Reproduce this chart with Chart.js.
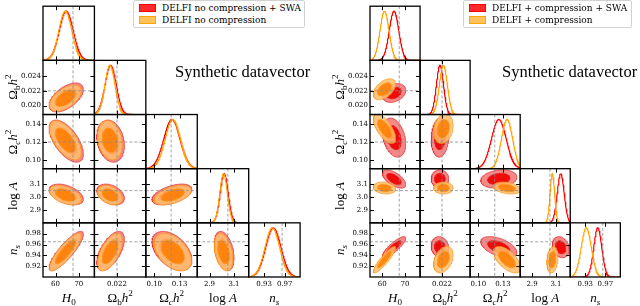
<!DOCTYPE html>
<html>
<head>
<meta charset="utf-8">
<script src="https://cdn.jsdelivr.net/npm/chart.js"></script>
<style>
  body { margin: 0; background: #fff; width: 640px; height: 306px; overflow: hidden; position: relative; font-family: "Liberation Serif", serif; color: #000; }
  canvas { position: absolute; top: 0; }
  #cornerL { left: 0; }
  #cornerR { left: 320px; }
  .ttl { position: absolute; font-size: 13px; line-height: 1; white-space: nowrap; }
  .ttl sub, .ttl sup { font-size: 70%; line-height: 0; }
  .legend { position: absolute; top: 0; height: 26px; border: 1px solid #d2d2d2; border-radius: 2px; background: #fff; font-family: "DejaVu Serif", serif; font-size: 9px; }
  .legend .row { position: absolute; left: 5px; height: 10px; line-height: 10px; display: flex; align-items: center; white-space: nowrap; }
  .legend .patch { display: inline-block; width: 15px; height: 6px; margin-right: 6px; box-sizing: content-box; }
  .legend .red { background: #ff2a2a; border: 1px solid #ff0000; }
  .legend .orange { background: #ffc35a; border: 1px solid #ffa500; }
  .big { position: absolute; font-size: 16.5px; line-height: 1; white-space: nowrap; }
</style>
</head>
<body>
<canvas id="cornerL" width="320" height="306"></canvas>
<canvas id="cornerR" width="320" height="306"></canvas>

<div class="legend" style="left:133px;width:170px">
  <div class="row" style="top:2px"><span class="patch red"></span>DELFI no compression + SWA</div>
  <div class="row" style="top:14px"><span class="patch orange"></span>DELFI no compression</div>
</div>
<div class="legend" style="left:463px;width:167px">
  <div class="row" style="top:2px"><span class="patch red"></span>DELFI + compression + SWA</div>
  <div class="row" style="top:14px"><span class="patch orange"></span>DELFI + compression</div>
</div>
<div class="big" style="left:175px;top:64px">Synthetic datavector</div>
<div class="big" style="left:502px;top:64px">Synthetic datavector</div>

<script>
// parameters (columns / rows of the corner plot)
const params = ['H0', 'Omega_b h^2', 'Omega_c h^2', 'log A', 'n_s'];
const axisTitles = ['<i>H</i><sub>0</sub>', 'Ω<sub>b</sub><i>h</i><sup>2</sup>', 'Ω<sub><i>c</i></sub><i>h</i><sup>2</sup>', 'log <i>A</i>', '<i>n</i><sub><i>s</i></sub>'];
const rangeMin = [54.6, 0.0188, 0.090, 2.80, 0.900];
const rangeMax = [76.7, 0.0261, 0.151, 3.22, 1.000];
const xTicks = [[60, 70], [0.022], [0.10, 0.13], [2.9, 3.1], [0.93, 0.97]];
const yTicks = [[], [0.020, 0.022, 0.024], [0.10, 0.12, 0.14], [2.9, 3.0, 3.1], [0.92, 0.94, 0.96, 0.98]];
const tickDecimals = [0, 3, 2, 1, 2];
const truth = [67.5, 0.022, 0.12, 3.05, 0.965];

// correlations, pair order: (H0,Ob) (H0,Oc) (H0,logA) (H0,ns) (Ob,Oc) (Ob,logA) (Ob,ns) (Oc,logA) (Oc,ns) (logA,ns)
const noCompSwaMean = [64.6, 0.0211, 0.121, 3.020, 0.948];
const noCompSwaSigma = [3.0, 0.00080, 0.0097, 0.033, 0.0148];
const noCompSwaCorr = [0.55, -0.6, -0.45, 0.85, -0.2, -0.35, 0.6, 0.5, -0.45, -0.35];

const noCompMean = [64.2, 0.0210, 0.122, 3.015, 0.946];
const noCompSigma = [2.8, 0.00072, 0.0090, 0.031, 0.0142];
const noCompCorr = [0.55, -0.6, -0.45, 0.85, -0.2, -0.35, 0.6, 0.5, -0.45, -0.35];

const compSwaMean = [65.2, 0.0217, 0.125, 3.140, 0.955];
const compSwaSigma = [2.1, 0.00052, 0.0090, 0.029, 0.0080];
const compSwaCorr = [0.3, -0.3, -0.6, 0.85, 0.1, 0.0, -0.1, 0.2, -0.5, -0.2];

const compMean = [61.0, 0.0222, 0.135, 3.070, 0.932];
const compSigma = [2.0, 0.00058, 0.0068, 0.019, 0.0100];
const compCorr = [0.5, -0.65, -0.15, 0.9, 0.2, 0.0, 0.35, -0.3, -0.6, 0.2];

const levels = [2.448, 1.515]; // 95% and 68% of a 2D gaussian

const redStyle = { outer: '#f58989', inner: '#f00a0a', edge: 'rgba(225,30,30,0.9)', line: '#ff0000' };
const orangeStyle = { outer: 'rgba(255,190,108,0.85)', inner: 'rgba(255,126,0,0.85)', edge: 'rgba(255,150,20,0.95)', line: '#ffa500' };

const pairs = [];
for (let a = 0; a < 5; a++) for (let b = a + 1; b < 5; b++) pairs.push(a + '-' + b);
const pairIdx = (a, b) => pairs.indexOf(a + '-' + b);

function ellipse(mx, my, sx, sy, rho, r) {
  const pts = [];
  const k = Math.sqrt(1 - rho * rho);
  for (let s = 0; s <= 96; s++) {
    const t = s / 96 * 2 * Math.PI;
    const c = Math.cos(t), n = Math.sin(t);
    pts.push({ x: mx + r * sx * c, y: my + r * sy * (rho * c + k * n) });
  }
  return pts;
}

// keep the contour inside its own cell
function clipPoly(pts, x0, x1, y0, y1) {
  const edges = [['x', x0, 1], ['x', x1, -1], ['y', y0, 1], ['y', y1, -1]];
  let out = pts;
  edges.forEach(([ax, v, sg]) => {
    const inp = out;
    out = [];
    for (let q = 0; q < inp.length; q++) {
      const a = inp[q], b = inp[(q + 1) % inp.length];
      const ina = sg * (a[ax] - v) >= 0, inb = sg * (b[ax] - v) >= 0;
      if (ina) out.push(a);
      if (ina !== inb) {
        const t = (v - a[ax]) / (b[ax] - a[ax]);
        out.push({ x: a.x + t * (b.x - a.x), y: a.y + t * (b.y - a.y) });
      }
    }
  });
  return out;
}

function buildDatasets(series) {
  const ds = [];
  for (let i = 1; i < 5; i++) for (let j = 0; j < i; j++) {
    series.forEach(s => {
      const rho = s.corr[pairIdx(j, i)];
      levels.forEach((r, li) => {
        const pts = clipPoly(ellipse(s.mean[j], s.mean[i], s.sigma[j], s.sigma[i], rho, r),
          rangeMin[j], rangeMax[j], rangeMin[i], rangeMax[i]);
        ds.push({
          data: pts, xAxisID: 'x' + j, yAxisID: 'y' + i, fill: 'shape',
          backgroundColor: li ? s.style.inner : s.style.outer,
          borderColor: s.style.edge, borderWidth: 0.7
        });
      });
    });
  }
  for (let k = 0; k < 5; k++) series.forEach(s => {
    const pts = [];
    for (let q = 0; q <= 150; q++) {
      const x = rangeMin[k] + (rangeMax[k] - rangeMin[k]) * q / 150;
      const z = (x - s.mean[k]) / s.sigma[k];
      pts.push({ x: x, y: Math.exp(-0.5 * z * z) });
    }
    ds.push({ data: pts, xAxisID: 'x' + k, yAxisID: 'd' + k, borderColor: s.style.line, borderWidth: 1.2, fill: false });
  });
  ds.forEach((d, n) => { d.order = -n; });
  return ds;
}

const tickFont = { family: 'DejaVu Serif', size: 7 };

function buildScales(axisWidth) {
  const sc = {};
  for (let j = 0; j < 5; j++) {
    sc['x' + j] = {
      type: 'linear', axis: 'x', position: 'bottom', stack: 'cols', bounds: 'data',
      min: rangeMin[j], max: rangeMax[j],
      grid: { display: false, drawTicks: false }, border: { display: false },
      ticks: { autoSkip: false, maxRotation: 0, padding: 3, font: tickFont, color: '#000',
        callback: v => Number(v).toFixed(tickDecimals[j]) },
      afterBuildTicks: s => { s.ticks = xTicks[j].map(v => ({ value: v })); },
      afterFit: s => { s.height = 29; }
    };
  }
  for (let i = 4; i >= 0; i--) {
    sc['y' + i] = {
      type: 'linear', axis: 'y', position: 'left', stack: 'rows', bounds: 'data', display: i > 0,
      min: rangeMin[i], max: rangeMax[i],
      grid: { display: false, drawTicks: false }, border: { display: false },
      ticks: { autoSkip: false, padding: 2, font: tickFont, color: '#000',
        callback: v => Number(v).toFixed(tickDecimals[i]) },
      afterBuildTicks: s => { s.ticks = yTicks[i].map(v => ({ value: v })); },
      afterFit: s => { s.width = axisWidth; }
    };
  }
  for (let k = 0; k < 5; k++) {
    sc['d' + k] = { type: 'linear', axis: 'y', position: 'right', stack: 'diag', display: false, bounds: 'data', min: 0, max: 1.1 };
  }
  return sc;
}

const cornerFrame = {
  id: 'cornerFrame',
  afterDatasetsDraw(chart) {
    const ctx = chart.ctx;
    ctx.save();
    for (let i = 0; i < 5; i++) for (let j = 0; j <= i; j++) {
      const xs = chart.scales['x' + j];
      const ys = chart.scales[i === j ? 'd' + i : 'y' + i];
      const L = xs.left, R = xs.right, T = ys.top, B = ys.bottom;
      ctx.strokeStyle = '#8a8a8a';
      ctx.lineWidth = 0.8;
      ctx.setLineDash([3, 2]);
      ctx.beginPath();
      const tx = xs.getPixelForValue(truth[j]);
      ctx.moveTo(tx, T); ctx.lineTo(tx, B);
      if (i !== j) {
        const ty = ys.getPixelForValue(truth[i]);
        ctx.moveTo(L, ty); ctx.lineTo(R, ty);
      }
      ctx.stroke();
      ctx.setLineDash([]);
      ctx.strokeStyle = '#000';
      ctx.lineWidth = 1;
      ctx.beginPath();
      xTicks[j].forEach(v => {
        const p = Math.round(xs.getPixelForValue(v)) + 0.5;
        ctx.moveTo(p, B); ctx.lineTo(p, B - 4);
        ctx.moveTo(p, T); ctx.lineTo(p, T + 4);
      });
      if (i !== j) yTicks[i].forEach(v => {
        const p = Math.round(ys.getPixelForValue(v)) + 0.5;
        ctx.moveTo(L, p); ctx.lineTo(L + 4, p);
        ctx.moveTo(R, p); ctx.lineTo(R - 4, p);
      });
      ctx.stroke();
      ctx.lineWidth = 1.3;
      ctx.strokeRect(L, T, R - L, B - T);
    }
    ctx.restore();
  }
};

function makeCorner(id, series, axisWidth, padRight) {
  return new Chart(document.getElementById(id), {
    type: 'line',
    data: { datasets: buildDatasets(series) },
    options: {
      responsive: false, animation: false, events: [],
      layout: { padding: { top: 1, right: padRight, bottom: 0, left: 0 } },
      elements: { point: { radius: 0 }, line: { tension: 0 } },
      plugins: { legend: { display: false }, tooltip: { enabled: false } },
      scales: buildScales(axisWidth)
    },
    plugins: [cornerFrame]
  });
}

function addTitles(chart, offsetX) {
  for (let j = 0; j < 5; j++) {
    const xs = chart.scales['x' + j];
    const d = document.createElement('div');
    d.className = 'ttl';
    d.innerHTML = axisTitles[j];
    d.style.left = (offsetX + (xs.left + xs.right) / 2) + 'px';
    d.style.top = '297px';
    d.style.transform = 'translate(-50%,-50%)';
    document.body.appendChild(d);
  }
  for (let i = 1; i < 5; i++) {
    const ys = chart.scales['y' + i];
    const d = document.createElement('div');
    d.className = 'ttl';
    d.innerHTML = axisTitles[i];
    d.style.left = (offsetX + ys.right - 31) + 'px';
    d.style.top = ((ys.top + ys.bottom) / 2) + 'px';
    d.style.transform = 'translate(-50%,-50%) rotate(-90deg)';
    document.body.appendChild(d);
  }
}

const left = makeCorner('cornerL', [
  { mean: noCompSwaMean, sigma: noCompSwaSigma, corr: noCompSwaCorr, style: redStyle },
  { mean: noCompMean, sigma: noCompSigma, corr: noCompCorr, style: orangeStyle }
], 43, 14);
const right = makeCorner('cornerR', [
  { mean: compSwaMean, sigma: compSwaSigma, corr: compSwaCorr, style: redStyle },
  { mean: compMean, sigma: compSigma, corr: compCorr, style: orangeStyle }
], 50, 7);
addTitles(left, 0);
addTitles(right, 320);
</script>
</body>
</html>
